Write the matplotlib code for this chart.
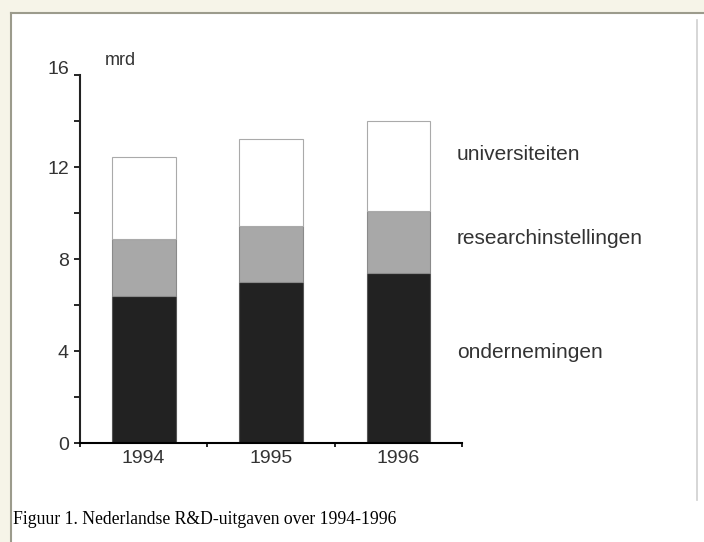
import numpy as np
import matplotlib.pyplot as plt
import matplotlib.transforms as mtransforms
from matplotlib.patches import Rectangle
from matplotlib.lines import Line2D

# R&D-uitgaven in mrd gulden
jaren = ['1994', '1995', '1996']
ondernemingen = [6.4, 7.0, 7.4]
researchinstellingen = [2.45, 2.45, 2.7]
universiteiten = [3.6, 3.75, 3.9]

W, H = 704, 542
fig = plt.figure(figsize=(W / 100, H / 100), dpi=100)
fig.patch.set_facecolor('#f6f4e8')

# page frame (pixel coords -> figure fraction)
def px(x, y):
    return x / W, 1 - y / H

fig.patches.append(Rectangle(px(11, H), (W - 11) / W, (H - 13) / H,
                             transform=fig.transFigure, facecolor='white',
                             edgecolor='none', zorder=-5))
fig.add_artist(Line2D([10.5 / W, 1], [1 - 12.5 / H] * 2, color='#9c9b8c', lw=1.5, zorder=-4))
fig.add_artist(Line2D([10.5 / W] * 2, [0, 1 - 12.5 / H], color='#9c9b8c', lw=1.5, zorder=-4))
fig.add_artist(Line2D([697 / W] * 2, [1 - 20 / H, 1 - 500 / H], color='#cfcfcf', lw=1.2, zorder=-4))

ax = fig.add_axes([80 / W, 1 - 443 / H, 382 / W, 368 / H])
ax.set_facecolor('none')

x = np.arange(len(jaren))
kw = dict(width=0.5, linewidth=0.8)
ax.bar(x, ondernemingen, color='#222222', edgecolor='#555555', **kw)
bottom2 = np.array(ondernemingen)
ax.bar(x, researchinstellingen, bottom=bottom2, color='#a8a8a8', edgecolor='#8a8a8a', **kw)
bottom3 = bottom2 + np.array(researchinstellingen)
ax.bar(x, universiteiten, bottom=bottom3, color='white', edgecolor='#aaaaaa', **kw)

ax.set_xlim(-0.5, 2.5)
ax.set_ylim(0, 16)
for s in ['top', 'right']:
    ax.spines[s].set_visible(False)
ax.spines['left'].set_linewidth(1.5)
ax.spines['left'].set_color('#222222')
ax.spines['bottom'].set_linewidth(1.5)

ax.set_yticks([0, 4, 8, 12, 16])
ax.set_yticks([2, 6, 10, 14], minor=True)
ax.tick_params(axis='y', which='both', length=4, width=1.2, direction='out',
               labelsize=14, labelcolor='#333333', pad=4)
ax.set_xticks(x)
ax.set_xticklabels(jaren)
ax.set_xticks([-0.5, 0.5, 1.5, 2.5], minor=True)
ax.tick_params(axis='x', which='major', length=0, labelsize=14,
               labelcolor='#333333', pad=5)
ax.tick_params(axis='x', which='minor', length=3, width=1.2, direction='out')
for lbl in ax.get_xticklabels() + ax.get_yticklabels():
    lbl.set_family('Liberation Sans')
# the top label sits a little higher, like in the original
top = ax.get_yticklabels()[-1]
top.set_transform(top.get_transform() +
                  mtransforms.ScaledTranslation(0, 8 / 100, fig.dpi_scale_trans))

ax.text(105 / W, 1 - 60 / H, 'mrd', transform=fig.transFigure, fontsize=13,
        family='Liberation Sans', color='#333333', va='center')

# series labels next to the bars
for label, yy in [('universiteiten', 155), ('researchinstellingen', 239),
                  ('ondernemingen', 352)]:
    fig.text(457 / W, 1 - yy / H, label, fontsize=15, family='Liberation Sans',
             color='#333333', va='center')

fig.text(13 / W, 1 - 520 / H, 'Figuur 1. Nederlandse R&D-uitgaven over 1994-1996',
         fontsize=12.7, family='Liberation Serif', color='black', va='center')

plt.savefig('out.png', dpi=100, facecolor=fig.get_facecolor())
